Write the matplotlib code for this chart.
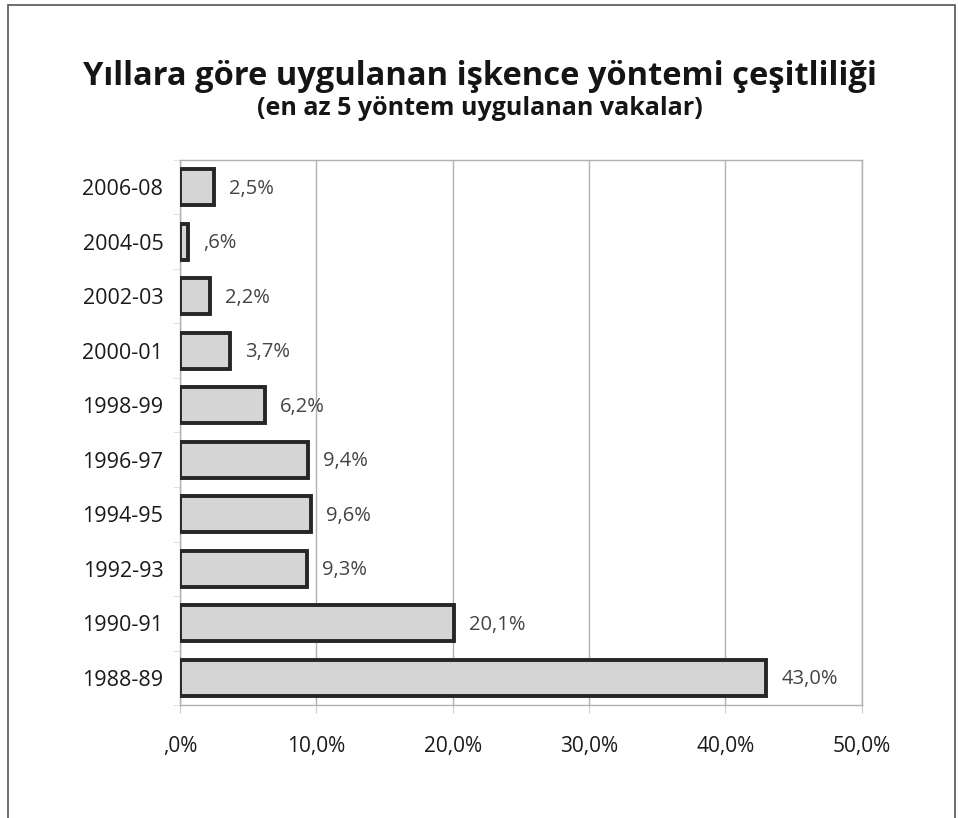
import matplotlib.pyplot as plt
from matplotlib.patches import Rectangle

plt.rcParams['font.family'] = ['Open Sans', 'DejaVu Sans']

periods = ['2006-08', '2004-05', '2002-03', '2000-01', '1998-99',
           '1996-97', '1994-95', '1992-93', '1990-91', '1988-89']
values = [2.5, 0.6, 2.2, 3.7, 6.2, 9.4, 9.6, 9.3, 20.1, 43.0]
xticks = [0, 10, 20, 30, 40, 50]
xtick_labels = [',0%', '10,0%', '20,0%', '30,0%', '40,0%', '50,0%']


def fmt(v):
    s = '%.1f%%' % v
    s = s.replace('.', ',')
    if s.startswith('0,'):
        s = s[1:]
    return s


fig = plt.figure(figsize=(9.59, 8.18), dpi=100)
ax = fig.add_axes([0.1877, 0.138, 0.711, 0.6666])

ypos = list(range(len(periods)))
ax.barh(ypos, values, height=0.66, color='#d5d5d5', edgecolor='#262626',
        linewidth=2.8, zorder=3)
for y, v in zip(ypos, values):
    ax.text(v + 1.1, y + 0.03, fmt(v), va='center', ha='left', fontsize=14.5,
            color='#444444')

ax.set_xlim(0, 50)
ax.set_ylim(len(periods) - 0.5, -0.5)
ax.set_yticks(ypos)
ax.set_yticklabels(periods, fontsize=15.5, color='#1a1a1a')
ax.set_yticks([i + 0.5 for i in range(-1, len(periods))], minor=True)
ax.set_xticks(xticks)
ax.set_xticklabels(xtick_labels, fontsize=15, color='#1a1a1a')
ax.tick_params(axis='y', which='major', length=0, pad=12)
ax.tick_params(axis='y', which='minor', length=5, color='#dddddd')
ax.tick_params(axis='x', length=6, color='#cccccc', pad=16)
ax.grid(axis='x', color='#b0b0b0', linewidth=1, zorder=0)
for s in ax.spines.values():
    s.set_color('#b0b0b0')
    s.set_linewidth(1)

fig.text(0.5, 0.906, 'Yıllara göre uygulanan işkence yöntemi çeşitliliği',
         ha='center', va='center', fontsize=23.5, fontweight='bold', color='#151515')
fig.text(0.5, 0.867, '(en az 5 yöntem uygulanan vakalar)',
         ha='center', va='center', fontsize=18, fontweight='bold', color='#151515')

fig.patches.append(Rectangle((8 / 959, -0.1), 947 / 959, 1.094,
                             transform=fig.transFigure, fill=False,
                             edgecolor='#555555', linewidth=1.2))

fig.savefig('out.png', dpi=100)
